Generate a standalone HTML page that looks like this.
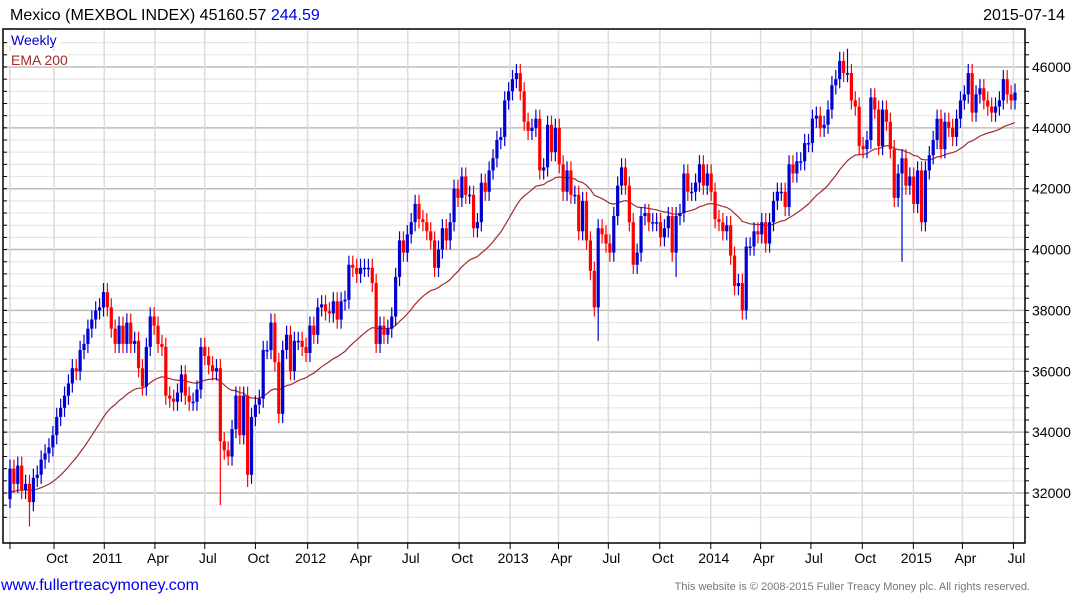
<!DOCTYPE html>
<html><head><meta charset="utf-8"><style>
html,body{margin:0;padding:0;background:#fff;}
body{width:1075px;height:600px;overflow:hidden;font-family:"Liberation Sans",sans-serif;}
svg text{font-family:"Liberation Sans",sans-serif;}
</style></head><body>
<svg id="chart" width="1075" height="600" viewBox="0 0 1075 600" xmlns="http://www.w3.org/2000/svg">
<g id="grid"></g>
<g id="ema"></g>
<g id="candles"></g>
<g id="axes"></g>
<text x="10" y="20" font-size="16" fill="#000">Mexico (MEXBOL INDEX) 45160.57 <tspan fill="#0000ee">244.59</tspan></text>
<text x="1065" y="20" font-size="16" text-anchor="end" fill="#000">2015-07-14</text>
<rect x="8" y="31" width="52" height="15" fill="#fff"/>
<text x="11" y="45" font-size="14" fill="#0000cc">Weekly</text>
<rect x="8" y="51" width="60" height="15" fill="#fff"/>
<text x="11" y="65" font-size="14" fill="#a52a2a">EMA 200</text>
<text x="1" y="590" font-size="16" fill="#0000ee">www.fullertreacymoney.com</text>
<text x="1030" y="590" font-size="11" text-anchor="end" fill="#777">This website is © 2008-2015 Fuller Treacy Money plc. All rights reserved.</text>
</svg>
<script>
const closes = [
32.8,32.3,32.9,32.1,32.3,31.7,32.5,32.6,33.1,33.3,33.5,33.9,34.5,34.8,35.2,35.6,36.1,36.0,36.7,36.9,37.4,37.7,38.0,38.1,38.6,
38.1,37.4,36.9,37.5,36.9,37.6,36.9,37.0,36.1,35.5,36.8,37.8,37.5,36.9,36.8,35.2,35.1,35.0,35.3,35.9,35.2,35.0,35.0,35.4,36.8,36.5,36.2,36.0,36.1,33.7,33.4,33.2,34.1,35.2,33.9,35.2,32.6,
34.5,34.9,35.1,36.7,36.7,37.6,36.3,34.6,36.7,37.2,36.0,37.0,37.0,36.8,36.6,37.5,37.2,38.1,38.2,37.97,37.9,38.3,37.7,38.3,38.35,39.5,39.4,39.2,39.4,39.4,39.4,38.9,36.9,37.5,37.2,37.4,37.8,39.1,40.3,39.9,40.5,40.9,41.5,41.0,40.9,40.6,40.3,39.4,40.0,40.7,40.3,40.9,42.0,41.7,42.4,41.8,41.8,40.7,40.9,42.2,41.9,42.6,
43.0,
43.6,43.7,44.9,45.2,45.6,45.8,45.2,44.2,43.9,44.0,44.3,42.6,42.7,44.1,43.2,44.0,42.8,41.9,42.6,41.8,41.8,40.6,41.6,40.3,39.3,38.1,40.7,40.5,40.2,39.9,41.1,42.1,42.7,42.1,40.9,39.5,39.9,41.1,41.2,40.9,40.9,40.9,40.4,40.7,41.1,39.9,41.1,41.2,42.5,41.9,41.9,42.2,42.8,42.1,42.5,41.9,41.0,40.9,40.6,40.8,39.8,38.8,38.9,38.0,40.1,40.1,40.6,40.5,40.9,40.2,
40.9,41.6,41.9,41.9,41.4,42.8,42.5,42.9,42.9,43.5,43.5,44.3,44.4,44.0,44.1,44.6,45.4,45.6,46.2,45.8,45.8,44.9,44.7,43.4,43.3,43.6,45.0,44.6,43.4,44.6,44.2,43.3,41.7,42.5,43.0,42.1,42.4,41.5,42.6,40.9,42.6,43.1,43.6,44.3,43.3,44.2,44.0,43.7,44.3,44.9,45.1,45.8,44.5,45.1,45.3,44.9,44.7,44.5,44.7,44.9,45.6,45.1,44.9,45.16
];
const firstOpen = 31.8;
const wickSize = [0.3];
const spikeIdx = [5, 54, 61, 130, 151, 189, 215, 229, 247, 171];
const spikeVal = [30.9, 31.6, 32.2, 46.1, 37.0, 37.7, 46.6, 39.6, 46.1, 39.1];
const yTicks = [32000,34000,36000,38000,40000,42000,44000,46000];
const xLabels = ["Oct","2011","Apr","Jul","Oct","2012","Apr","Jul","Oct","2013","Apr","Jul","Oct","2014","Apr","Jul","Oct","2015","Apr","Jul"];
const xLabelWeeks = [11.3,24.2,37.2,50.0,63.0,76.4,89.3,102.1,115.3,128.4,140.8,153.6,166.8,179.9,192.7,205.6,218.8,231.9,244.5,257.6];

const NS='http://www.w3.org/2000/svg';
const L=3,R=1025,T=29,B=543;
const x0=10,x1=1015;
const n=closes.length;
const step=(x1-x0)/(n-1);
function xs(i){return x0+i*step;}
function ys(v){return 493-(v*1000-32000)*0.03043;}
function mk(tag,attrs,parent){const e=document.createElementNS(NS,tag);for(const k in attrs)e.setAttribute(k,attrs[k]);parent.appendChild(e);return e;}
const grid=document.getElementById('grid'),axes=document.getElementById('axes'),cg=document.getElementById('candles'),eg=document.getElementById('ema');

// horizontal grid (minor every 400)
for(let v=31200;v<=46800;v+=400){
  const y=493-(v-32000)*0.03043;
  if(y<T||y>B)continue;
  const major=(v%2000===0);
  const ln=mk('line',{x1:L,x2:R,y1:y,y2:y,stroke:major?'#bdbdbd':'#e6e6e6','stroke-width':major?1.5:1.2},grid);
  
  
  const t1=mk('line',{x1:L,x2:L+4,y1:y,y2:y,stroke:'#000','stroke-width':1},axes);
  
  
  const t2=mk('line',{x1:R,x2:R+4,y1:y,y2:y,stroke:'#000','stroke-width':1},axes);
  
  
}
yTicks.forEach(v=>{
  const t=mk('text',{x:1032,y:ys(v/1000)+5,'font-size':14,fill:'#000'},axes);
  t.textContent=String(v);
  
  
});
// vertical grid
const vx=[xs(0)].concat(xLabelWeeks.map(w=>xs(w)));
vx.forEach((x,k)=>{
  const ln=mk('line',{x1:x,x2:x,y1:T,y2:B,stroke:'#dcdcdc','stroke-width':1.5},grid);
  
  
  const tk=mk('line',{x1:x,x2:x,y1:B,y2:B+6,stroke:'#000','stroke-width':1},axes);
  
  
});
xLabels.forEach((s,k)=>{
  const t=mk('text',{x:xs(xLabelWeeks[k])+3,y:563,'font-size':14,'text-anchor':'middle',fill:'#000'},axes);
  t.textContent=s;
  
  
});
// frame
const fr=mk('path',{d:`M${L},${T} H${R} V${B} H${L} Z`,fill:'none',stroke:'#000','stroke-width':1.5},axes);



// EMA 200-day ~ 40 weeks
const alpha=2/41;
let e=closes[0]-0.8;let pts=[];
closes.forEach((c,i)=>{e=e+alpha*(c-e);pts.push(xs(i).toFixed(1)+','+ys(e).toFixed(1));});
const pl=mk('polyline',{points:pts.join(' '),fill:'none',stroke:'#a52a2a','stroke-width':1.2},eg);



// candles
closes.forEach((c,i)=>{
  const o=i===0?firstOpen:closes[i-1];
  const up=c>=o;
  const col=up?'#0000d0':'#ff0000';
  let hi=Math.max(o,c)+wickSize[0],lo=Math.min(o,c)-wickSize[0];
  const si=spikeIdx.indexOf(i);
  if(si>=0){const sv=spikeVal[si];if(sv>hi)hi=sv;if(sv<lo)lo=sv;}
  const x=xs(i);
  const g=mk('g',{},cg);
  
  
  mk('line',{x1:x,x2:x,y1:ys(hi),y2:ys(lo),stroke:col,'stroke-width':1.2},g);
  const yt=ys(Math.max(o,c)),yb=ys(Math.min(o,c));
  mk('rect',{x:x-1.6,y:yt,width:3.2,height:Math.max(1.5,yb-yt),fill:col},g);
});
</script>
</body></html>
